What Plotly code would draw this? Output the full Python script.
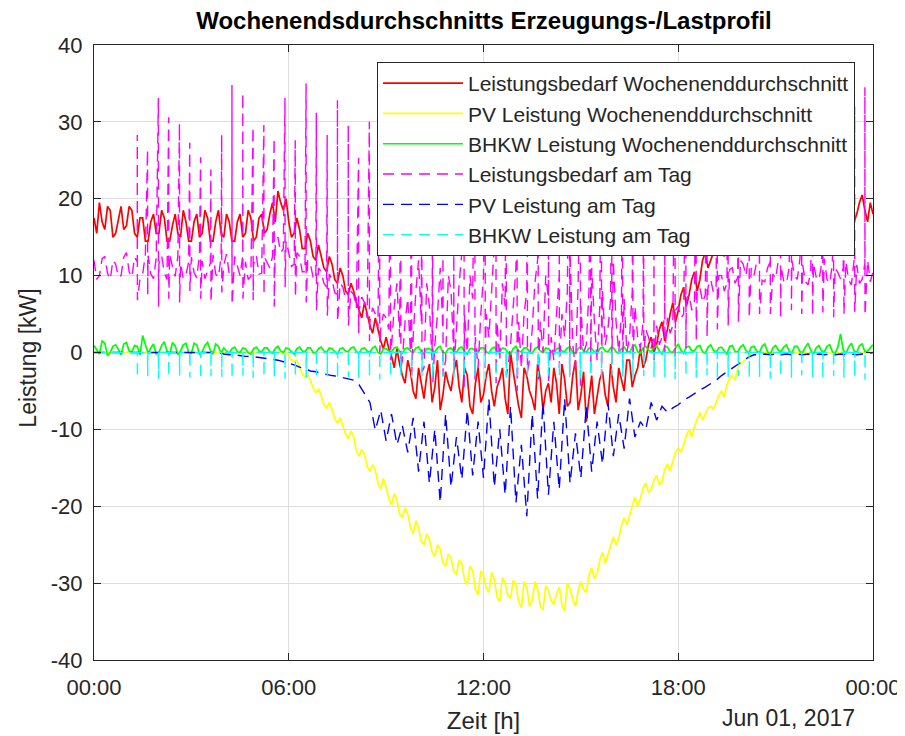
import plotly.graph_objects as go

# ---------------- data ----------------
# Averages on a 10-minute grid (00:00 .. 24:00); each row = one hour (:00 :10 :20 :30 :40 :50),
# last value = 24:00.  The *_mid lists hold the in-between samples (:05 :15 ... :55).
bedarf_avg = [
    17.5, 19.5, 16, 18.5, 15.5, 19,
    16.5, 18.5, 15, 17.5, 14.5, 18,
    15.5, 17.5, 14.5, 18, 15, 17,
    14.5, 18, 15.5, 17.5, 14.5, 18.5,
    15, 17, 14.5, 18, 15.5, 17.5,
    15, 18, 16, 19.5, 21, 18.5,
    17, 15.5, 16, 13.5, 14.5, 12,
    12.5, 10.5, 11.5, 9, 10, 7.5,
    8, 5.5, 6.5, 3.5, 4.5, 1.5,
    2, -0.5, 0.5, -3, -1, -5,
    -2, -6, -1.5, -4.5, -7.5, -2.5,
    -5, -1, -6.5, -3, -8, -2,
    -5.5, -1.5, -7, -3.5, -6, 0,
    -5, -8.5, -3, -6, -1.5, -7.5,
    -4, -2, -8, -3.5, -6.5, -1,
    -5.5, -9, -3, -6, -2.5, -7,
    -4.5, -2, -5, -1, -3, 0.5,
    -1, 2, 1, 4, 3, 6.5,
    5.5, 8.5, 7.5, 10.5, 9.5, 13,
    12, 14.5, 13.5, 16, 14.5, 17,
    15.5, 18, 16, 17.5, 15, 18.5,
    16, 17.5, 15, 18, 16, 17,
    15.5, 18, 16, 17.5, 15, 18,
    16.5, 17.5, 16, 18, 20.5, 17,
    18,
]
bedarf_avg_mid = [
    15.5, 17, 19, 15, 17.5, 16,
    19, 15.5, 17.5, 14.5, 17, 15.5,
    18.5, 14.5, 16.5, 15.5, 18.5, 14.5,
    17, 15, 18.5, 14.5, 17, 15.5,
    18, 14.5, 17, 15, 18.5, 14.5,
    17.5, 15.5, 18, 17, 19.5, 20,
    15, 17.5, 13.5, 15.5, 12.5, 14,
    11, 12.5, 9.5, 11, 8, 9,
    6.5, 4.5, 5, 2.5, 3, 0.5,
    0.5, -2, -1.5, -4, -2.5, -6,
    -4, -3, -6.5, -1, -5.5, -4,
    -2.5, -4.5, -2, -7, -4, -6.5,
    -3, -5, -4.5, -2, -8, -2.5,
    -7, -2, -5, -7.5, -3.5, -5,
    -6.5, -4, -1.5, -7, -3, -7.5,
    -2.5, -6, -8, -3.5, -5.5, -1.5,
    -6.5, -3.5, -1, -4.5, -2, -2,
    1, 0, 3, 1.5, 5, 4,
    7.5, 6, 9.5, 8, 12, 11,
    13, 15.5, 12.5, 15, 16, 15.5,
    17, 16, 18, 16.5, 17.5, 15,
    18, 16, 17.5, 15.5, 18, 16.5,
    17, 16, 18.5, 16, 17, 16.5,
    18.5, 15.5, 17, 19.5, 18.5, 19.5,
]

pv_avg = [
    0, 0, 0, 0, 0, 0,
    0, 0, 0, 0, 0, 0,
    0, 0, 0, 0, 0, 0,
    0, 0, 0, 0, 0, 0,
    0, 0, 0, 0, 0, 0,
    0, 0, 0, 0, 0, 0,
    -0.3, -1.2, -1.8, -3.2, -3.6, -5.2,
    -5.6, -7.2, -7.4, -9.2, -9.5, -11.2,
    -11, -13.5, -13.2, -15.5, -15.3, -17.8,
    -17.6, -19.8, -19.2, -21.5, -21, -23.6,
    -22.8, -25, -24.3, -26.5, -25.6, -27.8,
    -26.7, -28.8, -27.5, -30.2, -28.4, -31.5,
    -29, -31.2, -29.5, -32.4, -30, -32,
    -30.3, -33.2, -30.5, -32.3, -30.8, -33.5,
    -31, -32.8, -30.5, -33.6, -30.7, -33,
    -29.8, -31.2, -28, -28.8, -26, -26.3,
    -24, -24.2, -21.5, -21.2, -18.8, -19,
    -17, -17.8, -16, -16.8, -14.5, -14.2,
    -12.4, -12, -10, -9.6, -7.8, -8,
    -7, -6.5, -5, -4.2, -3, -2,
    -1.2, -0.4, 0, 0, 0, 0,
    0, 0, 0, 0, 0, 0,
    0, 0, 0, 0, 0, 0,
    0, 0, 0, 0, 0, 0,
    0,
]
pv_avg_mid = [
    0, 0, 0, 0, 0, 0,
    0, 0, 0, 0, 0, 0,
    0, 0, 0, 0, 0, 0,
    0, 0, 0, 0, 0, 0,
    0, 0, 0, 0, 0, 0,
    0, 0, 0, 0, 0, -0.1,
    -1.0, -1.0, -2.8, -2.9, -4.6, -4.8,
    -6.8, -6.5, -8.6, -8.5, -10.6, -10.2,
    -12.8, -12.6, -14.8, -14.6, -17, -16.4,
    -19, -18.4, -21, -20.2, -22.8, -21.9,
    -24.5, -23.6, -26, -25, -27.4, -26.2,
    -28.5, -27, -29.6, -27.8, -30.8, -28.4,
    -30.6, -28.6, -31.8, -29.3, -31.6, -29.6,
    -32.4, -29.8, -33, -29.8, -33, -30.4,
    -32.2, -31.4, -32.8, -30, -32.2, -31,
    -30.8, -29, -29.4, -27, -27.4, -25,
    -25, -22.5, -22.4, -19.8, -20, -17.6,
    -18.2, -16.6, -17.2, -15.2, -15.4, -13,
    -13, -10.8, -11, -8.6, -8.8, -7.2,
    -7.4, -5.6, -5.8, -3.4, -3.6, -1.4,
    -0.9, -0.1, 0, 0, 0, 0,
    0, 0, 0, 0, 0, 0,
    0, 0, 0, 0, 0, 0,
    0, 0, 0, 0, 0, 0,
]

bhkw_avg = [
    0.9, -0.2, 1.2, 0.0, 1.0, -0.3,
    1.3, 0.1, 0.8, 2.2, -0.1, 1.1,
    0.0, 1.4, -0.2, 0.9, 0.2, 1.2,
    -0.1, 1.0, 0.1, 1.3, -0.2, 0.8,
    0.6, -0.1, 0.7, 0.0, 0.5, -0.2,
    0.7, 0.1, 0.6, -0.1, 0.8, 0.0,
    0.5, -0.2, 0.7, 0.1, 0.6, -0.1,
    0.7, 0.0, 0.5, -0.2, 0.6, 0.1,
    0.7, -0.1, 0.6, 0.0, 0.8, -0.2,
    0.5, 0.1, 0.7, -0.1, 0.6, 0.0,
    0.7, -0.2, 0.5, 0.1, 0.8, -0.1,
    0.6, 0.0, 0.7, -0.2, 0.5, 0.1,
    0.6, -0.1, 0.7, 0.0, 0.5, -0.2,
    0.8, 0.1, 0.6, -0.1, 0.7, 0.0,
    0.5, -0.2, 0.6, 0.1, 0.7, -0.1,
    0.8, 0.0, 0.5, -0.2, 0.7, 0.1,
    0.6, -0.1, 0.7, 0.0, 1.0, -0.1,
    0.8, 0.1, 0.9, -0.2, 0.7, 0.0,
    1.1, -0.1, 0.8, 0.2, 0.9, -0.1,
    1.0, 0.0, 0.7, -0.2, 0.9, 0.1,
    1.0, -0.1, 0.8, 0.0, 1.1, -0.2,
    0.9, 0.1, 1.0, -0.1, 0.8, 0.0,
    1.2, -0.2, 0.9, 0.1, 1.0, -0.1,
    2.4, -0.1, 1.2, 0.0, 1.1, 0.2,
    1.0,
]
bhkw_avg_mid = [
    0.3, 1.5, -0.4, 0.8, 0.4, 1.1,
    0.2, 0.9, -0.3, 1.0, 0.6, -0.2,
    0.9, 0.2, 1.3, -0.3, 1.0, 0.0,
    1.2, -0.2, 0.9, 0.3, 1.1, -0.1,
    0.2, 0.5, 0.1, 0.6, 0.0, 0.5,
    0.2, 0.6, 0.1, 0.5, 0.2, 0.6,
    0.1, 0.5, 0.2, 0.6, 0.0, 0.5,
    0.2, 0.6, 0.1, 0.5, 0.2, 0.6,
    0.1, 0.5, 0.2, 0.6, 0.0, 0.5,
    0.2, 0.6, 0.1, 0.5, 0.2, 0.6,
    0.1, 0.5, 0.2, 0.6, 0.0, 0.5,
    0.2, 0.6, 0.1, 0.5, 0.2, 0.6,
    0.1, 0.5, 0.2, 0.6, 0.0, 0.5,
    0.2, 0.6, 0.1, 0.5, 0.2, 0.6,
    0.1, 0.5, 0.2, 0.6, 0.0, 0.5,
    0.2, 0.6, 0.1, 0.5, 0.2, 0.6,
    0.1, 0.5, 0.2, 0.7, 0.1, 0.6,
    0.3, 0.6, 0.2, 0.8, 0.1, 0.6,
    0.3, 0.7, 0.2, 0.8, 0.1, 0.7,
    0.3, 0.6, 0.2, 0.8, 0.1, 0.7,
    0.3, 0.7, 0.2, 0.8, 0.1, 0.6,
    0.3, 0.7, 0.2, 0.8, 0.1, 0.7,
    0.3, 0.6, 0.2, 0.8, 0.1, 0.7,
    0.3, 0.7, 0.2, 0.9, 0.1, 0.6,
]

bedarf_tag = [
    12, 10, 12.5, 9.5, 11.5, 10,
    13, 9.8, 11.8, 10.2, 12.6, 9.6,
    11.5, 10.4, 12.8, 9.9, 11.6, 10.1,
    12.4, 9.7, 11.9, 10.5, 12.7, 9.8,
    11.4, 10.2, 12.5, 10, 11.8, 9.9,
    12.6, 10.3, 11.7, 12.5, 15, 13.5,
    13, 11.5, 12.5, 10.5, 11.5, 9.5,
    10.5, 8.5, 9.5, 7.5, 8.5, 6.5,
    7.5, 5.5, 6.5, 4, 5, 3,
    4.5, 1, 9, -1, 7, 2,
    12, -2, 6, 1, 11, -1,
    8, 3, 13, 0, 7, -2,
    10, 2, 14, -1, 6, 1,
    11, -2, 8, 3, 12, 0,
    7, -1, 10, 2, 13, -2,
    6, 1, 11, -1, 8, 3,
    12, 0, 7, 2, 6, 0.5,
    3, 0.5, 3.5, 2, 4.5, 3.5,
    6, 5, 7.5, 6.5, 8.5, 7.5,
    9.5, 8.5, 10, 9, 11, 9.8,
    11.5, 12.5, 10, 11.5, 9.2, 11.8,
    9.6, 11.2, 9, 12, 9.5, 11.4,
    8.8, 11.6, 9.4, 12.2, 9, 11,
    9.6, 11.8, 8.8, 11.4, 9.5, 12,
    10.5,
]
bedarf_tag_mid = [
    9.5, 12.2, 10.3, 12, 9.8, 12.4,
    10.5, 12.4, 9.6, 12.8, 10.2, 12.3,
    12.6, 9.5, 11.2, 12.5, 9.6, 11.8,
    10.4, 12.8, 9.6, 11.6, 10.2, 12.5,
    12.8, 9.8, 11.2, 12.6, 9.5, 11.5,
    10.2, 12.4, 11, 14, 13, 14.5,
    11.2, 13, 10.5, 12, 9.8, 11,
    9, 10.2, 7.8, 9, 7, 8,
    5.8, 7.2, 4.5, 5.8, 3.2, 5,
    3, 6, 2, 4, 0, 8,
    4, 9, -1, 5, 3, 10,
    0, 9, 5, 10, 2, 5,
    5, 8, 4, 9, -2, 6,
    4, 5, -1, 9, 4, 10,
    2, 5, 5, 8, 1, 9,
    0, 8, 4, 6, 1, 7,
    4, 5, 0, 8, 2, 4,
    2, 2.5, 1, 5, 2.5, 5.5,
    4.5, 7, 5.5, 8, 6.5, 8.5,
    7.8, 10, 8, 10.8, 9, 12,
    10, 11, 11.8, 9.4, 11, 10.2,
    12, 9.3, 11, 10, 12.2, 9.2,
    10.6, 9.8, 11.5, 9.5, 11.6, 10.4,
    11, 9.4, 12, 9, 11.6, 9.2,
]

pv_tag = [
    0, 0, 0, 0, 0, 0,
    0, 0, 0, 0, 0, 0,
    0, 0, 0, 0, 0, 0,
    0, 0, 0, 0, 0, 0,
    -0.2, -0.3, -0.3, -0.4, -0.5, -0.5,
    -0.6, -0.7, -0.8, -0.9, -1.0, -1.2,
    -1.4, -1.6, -1.9, -2.1, -2.4, -2.5,
    -2.7, -2.9, -3.0, -3.1, -3.3, -3.4,
    -3.6, -4.2, -5.3, -6.5, -10.1, -7.5,
    -11.5, -8, -12, -9.5, -13, -8.5,
    -15.5, -9, -17, -10, -19.5, -8,
    -17.5, -11, -16.5, -7.5, -16, -9,
    -16.3, -6, -17.5, -10, -18.5, -7,
    -19.5, -12, -21.3, -8, -19, -6.5,
    -18.5, -9, -17.8, -6, -17, -10.5,
    -16.3, -7, -15.5, -9, -14.5, -6.5,
    -13.5, -8, -12.5, -6, -11, -9,
    -10, -6.5, -8.8, -7, -7.8, -7.2,
    -6.8, -6.2, -5.8, -5.3, -4.9, -4.5,
    -4.1, -3.6, -3.0, -2.5, -2.0, -1.5,
    -1.0, -0.6, -0.3, -0.3, -0.2, -0.3,
    -0.2, -0.3, -0.2, -0.3, -0.2, -0.3,
    -0.2, -0.3, -0.2, -0.3, -0.2, -0.3,
    -0.2, -0.3, -0.2, -0.3, -0.2, -0.2,
    0,
]

# short load peaks of the single day (minute of day, peak kW, low kW)
spike_minutes = [
    80, 99, 119, 138, 158, 177, 197, 216, 236, 255,
    275, 294, 314, 333, 353, 372, 392, 411, 431, 450,
    470, 489, 509, 528, 548, 567, 587, 606, 626, 645,
    665, 684, 704, 723, 743, 762, 782, 801, 821, 840,
    860, 879, 899, 918, 938, 957, 977, 996, 1016, 1035,
    1055, 1074, 1094, 1113, 1133, 1152, 1172, 1191, 1211, 1230,
    1250, 1269, 1289, 1308, 1328, 1347, 1367, 1386, 1406, 1425,
]
spike_peak = [
    28.3, 26.4, 33.1, 30.6, 29.8, 27.3, 25.4, 23.8, 28.3, 34.8,
    33.8, 29.4, 29.6, 27.9, 33.1, 27.6, 35.0, 31.2, 28.3, 32.8,
    29.6, 25.3, 30, 33, 29, 31, 34, 28, 32, 30,
    35, 29, 33, 31, 28, 34, 30, 32, 29, 33,
    31, 35, 28, 30, 34, 29, 32, 31, 33, 28,
    30, 34, 29, 32, 31, 33, 30, 28, 34, 31,
    29, 33, 30, 32, 31, 29, 33, 30, 32, 34.5,
]
spike_low = [
    6.8, 7.5, 6, 7, 6.5, 8, 7, 6.5, 7.8, 6.2,
    7, 6.8, 7.5, 6, 8.5, 7.2, 6.5, 5.5, 4.8, 4,
    3.5, 2.5, 1.5, 0, -1, -2, -3, -2.5, -4, -3,
    -2, -4.5, -3.5, -2, -4, -3, -5, -2.5, -3.5, -4,
    -2, -3, -4.5, -2.5, -3, -1.5, -2, -1, -0.5, -1,
    0, -0.5, 0.5, 1.5, 2, 3, 3.5, 4, 4.5, 5,
    5, 4.5, 5.5, 5, 4.8, 5.2, 4.6, 5, 5.3, 4.8,
]
bhkw_tag_base = 0.0
bhkw_tag_dip = [
    -3.3, -3.1, -3.4, -3.2, -3.0, -3.3, -3.5, -3.1, -3.2, -3.4,
    -3.0, -3.3, -3.2, -3.1, -3.4, -3.2, -3.3, -3.0, -3.1, -3.4,
    -3.2, -3.3, -3.1, -3.5, -3.2, -3.0, -3.3, -3.1, -3.4, -3.2,
    -3.3, -3.1, -3.0, -3.4, -3.2, -3.3, -3.1, -3.5, -3.2, -3.0,
    -3.3, -3.2, -3.4, -3.1, -3.3, -3.0, -3.2, -3.4, -3.1, -3.3,
    -3.2, -3.5, -3.1, -3.3, -3.0, -3.4, -3.2, -3.1, -3.3, -3.2,
    -3.4, -3.1, -3.3, -3.0, -3.2, -3.4, -3.1, -3.3, -3.2, -3.5,
]

x_tick_hours = [0, 6, 12, 18, 24]
x_tick_labels = ["00:00", "06:00", "12:00", "18:00", "00:00"]
y_tick_values = [-40, -30, -20, -10, 0, 10, 20, 30, 40]
y_tick_labels = ["-40", "-30", "-20", "-10", "0", "10", "20", "30", "40"]
names = [
    "Leistungsbedarf Wochenenddurchschnitt",
    "PV Leistung Wochenenddurchschnitt",
    "BHKW Leistung Wochenenddurchschnitt",
    "Leistungsbedarf am Tag",
    "PV Leistung am Tag",
    "BHKW Leistung am Tag",
]

# ---------------- build traces ----------------
STEP = 10.0  # minutes between grid samples


def interleave(grid, mid):
    """grid samples at k*10 min, mid samples at k*10+5 min -> (minutes, values)"""
    pts = []
    for i, v in enumerate(grid):
        pts.append((i * STEP, v))
        if i < len(mid):
            pts.append((i * STEP + STEP / 2, mid[i]))
    return pts


def to_xy(pts):
    return [p[0] / 60.0 for p in pts], [p[1] for p in pts]


red_x, red_y = to_xy(interleave(bedarf_avg, bedarf_avg_mid))
yel_x, yel_y = to_xy(interleave(pv_avg, pv_avg_mid))
grn_x, grn_y = to_xy(interleave(bhkw_avg, bhkw_avg_mid))

# single-day demand: samples merged with the short peaks
mpts = [(t, 0, v) for t, v in interleave(bedarf_tag, bedarf_tag_mid)]
for t, pk, lo in zip(spike_minutes, spike_peak, spike_low):
    mpts.append((t, 1, pk))
    mpts.append((t + 0.25, 2, lo))
mpts.sort(key=lambda p: (p[0], p[1]))
mag_x = [p[0] / 60.0 for p in mpts]
mag_y = [p[2] for p in mpts]

blu_x = [i * STEP / 60.0 for i in range(len(pv_tag))]

# single-day CHP: base level with short dips at the same moments
cy = [(0.0, bhkw_tag_base)]
for t, d in zip(spike_minutes, bhkw_tag_dip):
    cy += [(t, bhkw_tag_base), (t + 0.25, d), (t + 0.5, bhkw_tag_base)]
cy.append((1440.0, bhkw_tag_base))
cy_x, cy_y = to_xy(cy)

DASH = "11px,7px"
LW = 1.4
LW_SOLID = 1.7
fig = go.Figure()
fig.add_trace(go.Scatter(x=red_x, y=red_y, mode="lines", name=names[0],
                         line=dict(color="#ff0000", width=LW_SOLID)))
fig.add_trace(go.Scatter(x=yel_x, y=yel_y, mode="lines", name=names[1],
                         line=dict(color="#ffff00", width=LW_SOLID)))
fig.add_trace(go.Scatter(x=grn_x, y=grn_y, mode="lines", name=names[2],
                         line=dict(color="#00ff00", width=LW_SOLID)))
fig.add_trace(go.Scatter(x=mag_x, y=mag_y, mode="lines", name=names[3],
                         line=dict(color="#ff00ff", width=LW, dash=DASH)))
fig.add_trace(go.Scatter(x=blu_x, y=pv_tag, mode="lines", name=names[4],
                         line=dict(color="#0000ff", width=LW, dash=DASH)))
fig.add_trace(go.Scatter(x=cy_x, y=cy_y, mode="lines", name=names[5],
                         line=dict(color="#00ffff", width=LW, dash=DASH)))

FONT = "Liberation Sans, Arial, Helvetica, sans-serif"
AX = "#262626"
GRID = "#dedede"

# the page body adds an 8 px margin, so the figure is 8 px smaller and offset
W, H = 897, 728
L, T, R, B = 86, 37, 32, 76
PW, PH = W - L - R, H - T - B

fig.update_layout(
    width=W, height=H,
    margin=dict(l=L, r=R, t=T, b=B),
    paper_bgcolor="white", plot_bgcolor="white",
    title=dict(text="<b>Wochenendsdurchschnitts Erzeugungs-/Lastprofil</b>",
               x=476 / W, xanchor="center", y=1 - 4 / H, yanchor="top",
               font=dict(family=FONT, size=24, color="black")),
    legend=dict(x=(847 - L) / PW, xanchor="right", y=(H - B - 54) / PH, yanchor="top",
                bgcolor="white", bordercolor=AX, borderwidth=1,
                font=dict(family=FONT, size=21, color=AX),
                itemwidth=80, tracegroupgap=0),
    xaxis=dict(range=[0, 24], tickmode="array", tickvals=x_tick_hours, ticktext=x_tick_labels,
               ticks="inside", ticklen=7, tickcolor=AX, showline=True, linecolor=AX,
               linewidth=1, mirror="ticks", showgrid=True, gridcolor=GRID, zeroline=False,
               automargin=False, ticklabelstandoff=8,
               tickfont=dict(family=FONT, size=22, color=AX),
               title=dict(text="Zeit [h]", font=dict(family=FONT, size=24, color=AX), standoff=12)),
    yaxis=dict(range=[-40, 40], tickmode="array", tickvals=y_tick_values, ticktext=y_tick_labels,
               ticks="inside", ticklen=7, tickcolor=AX, showline=True, linecolor=AX,
               linewidth=1, mirror="ticks", showgrid=True, gridcolor=GRID, zeroline=False,
               automargin=False, ticklabelstandoff=6,
               tickfont=dict(family=FONT, size=22, color=AX)),
    annotations=[
        dict(text="Leistung [kW]", xref="paper", yref="paper",
             x=(20 - L) / PW, xanchor="center", y=0.49, yanchor="middle", textangle=-90,
             showarrow=False, font=dict(family=FONT, size=23, color=AX)),
        dict(text="Jun 01, 2017", xref="paper", yref="paper",
             x=(849 - L) / PW, xanchor="right", y=(H - B - 710) / PH, yanchor="middle",
             showarrow=False, font=dict(family=FONT, size=23, color=AX)),
    ],
)

fig.write_html("out.html")
